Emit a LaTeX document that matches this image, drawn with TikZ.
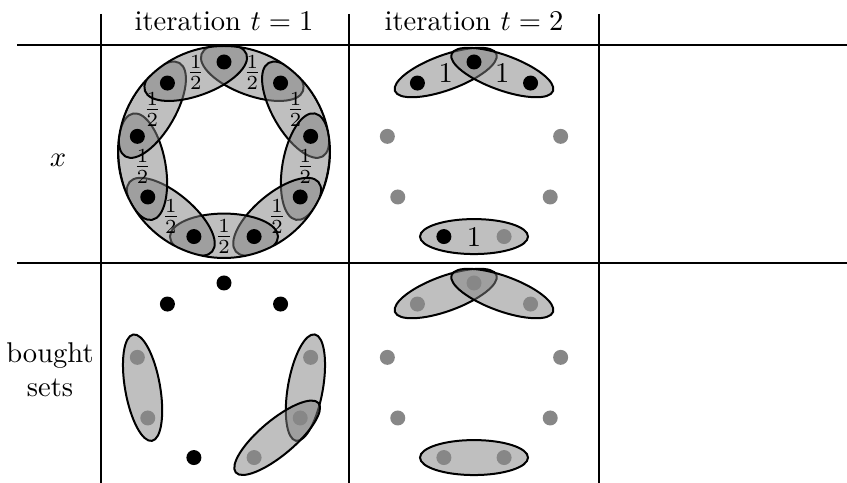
\documentclass[tikz,border=0pt]{standalone}
\usepackage{amsmath}
\usepackage{tikz}
\usetikzlibrary{calc}

% the nine elements of one panel, on a slightly tall circle
\newcommand{\ninepoints}[1]{%
  \foreach \k/\w in {0/90,1/50,2/10,3/-30,4/-70,5/-110,6/-150,7/170,8/130}
    \coordinate (#1-\k) at ($(#1)+(\w:88 and 90)$);}

% a set around two neighbouring elements: panel, i, j, tilt, half width
\newcommand{\boughtset}[5]{%
  \coordinate (#1-m#2#3) at ($(#1-#2)!0.5!(#1-#3)$);
  \draw[setbox, rotate around={#4:(#1-m#2#3)}] (#1-m#2#3) ellipse (54 and #5);}

\begin{document}
\begin{tikzpicture}[
  x=0.35pt, y=0.35pt,
  rule/.style={line width=1pt},
  setbox/.style={draw=black, line width=0.7pt, fill=black!50, fill opacity=0.5},
  bdot/.style={fill=black},
  gdot/.style={fill=black!47},
]
\useasboundingbox (0,0) rectangle (847,483);

% table
\draw[rule] (17,438) -- (847,438);
\draw[rule] (17,220) -- (847,220);
\foreach \x in {101,349,599}
  \draw[rule] (\x,469) -- (\x,0);

\node[anchor=base] (h1) at (224,452) {iteration $t=1$};
\node[anchor=base] (h2) at (474,452) {iteration $t=2$};
\node (rx) at (58,323) {$x$};
\node[align=center] (rb) at (50,113) {bought\\sets};

% panel centres
\coordinate (a) at (224,331);
\coordinate (b) at (474,331);
\coordinate (c) at (224,110);
\coordinate (d) at (474,110);
\ninepoints{a}
\ninepoints{b}
\ninepoints{c}
\ninepoints{d}

% x, t=1
\begin{scope}
  \clip (a) circle (106);
  \foreach \i/\j/\r in {0/1/160,1/2/120,2/3/80,3/4/40,4/5/0,5/6/-40,6/7/-80,7/8/-120,8/0/20}{
    \boughtset{a}{\i}{\j}{\r}{23}}
\end{scope}
\draw[line width=0.7pt] (a) circle (106);
\foreach \k in {0,...,8}
  \fill[bdot] (a-\k) circle (7.5);
\foreach \i/\j in {0/1,1/2,2/3,3/4,4/5,5/6,6/7,7/8,8/0}
  \node (a-f\i) at (a-m\i\j) {$\frac12$};

% x, t=2
\boughtset{b}{8}{0}{20}{17.5}
\boughtset{b}{0}{1}{-20}{17.5}
\boughtset{b}{4}{5}{0}{17.5}
\foreach \k in {0,1,8,5}
  \fill[bdot] (b-\k) circle (7.5);
\foreach \k in {2,3,4,6,7}
  \fill[gdot] (b-\k) circle (7.5);
\node (b-f8) at (b-m80) {1};
\node (b-f0) at (b-m01) {1};
\node (b-f4) at (b-m45) {1};

% bought sets, t=1
\boughtset{c}{6}{7}{-80}{17.5}
\boughtset{c}{2}{3}{80}{17.5}
\boughtset{c}{3}{4}{40}{17.5}
\foreach \k in {0,1,8,5}
  \fill[bdot] (c-\k) circle (7.5);
\foreach \k in {2,3,4,6,7}
  \fill[gdot] (c-\k) circle (7.5);

% bought sets, t=2
\boughtset{d}{8}{0}{20}{17.5}
\boughtset{d}{0}{1}{-20}{17.5}
\boughtset{d}{4}{5}{0}{17.5}
\foreach \k in {0,...,8}
  \fill[gdot] (d-\k) circle (7.5);

\end{tikzpicture}
\end{document}
